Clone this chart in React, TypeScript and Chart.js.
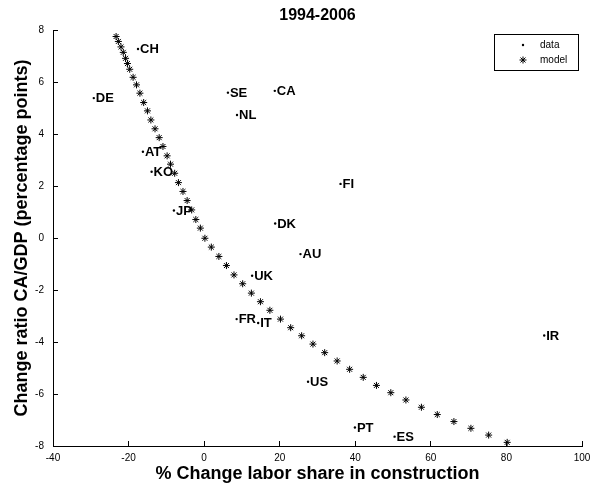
import React, { useEffect, useRef } from 'react';
import { Chart, registerables } from 'chart.js';

Chart.register(...registerables);

const FONT = '"Liberation Sans", Arial, Helvetica, sans-serif';

const TITLE = '1994-2006';
const X_TITLE = '% Change labor share in construction';
const Y_TITLE = 'Change ratio CA/GDP (percentage points)';
const DATA_LABEL = 'data';
const MODEL_LABEL = 'model';

const X_MIN = -40;
const X_MAX = 100;
const X_STEP = 20;
const Y_MIN = -8;
const Y_MAX = 8;
const Y_STEP = 2;

const COUNTRIES = ['CH', 'DE', 'SE', 'CA', 'NL', 'AT', 'KO', 'JP', 'DK', 'FI', 'AU', 'UK', 'FR', 'IT', 'IR', 'US', 'PT', 'ES'];
const DATA_X = [-17.5, -29.2, 6.3, 18.7, 8.7, -16.2, -13.9, -8.0, 18.8, 36.1, 25.5, 12.7, 8.6, 14.3, 90.0, 27.5, 39.9, 50.4];
const DATA_Y = [7.27, 5.38, 5.59, 5.66, 4.73, 3.32, 2.55, 1.06, 0.56, 2.08, -0.62, -1.45, -3.12, -3.27, -3.75, -5.53, -7.29, -7.64];

const MODEL_X = [
  -23.3, -22.7, -22.0, -21.4, -20.8, -20.3, -19.7, -18.8, -17.9, -17.0,
  -16.0, -15.0, -14.1, -13.0, -11.9, -10.9, -9.8, -8.9, -7.8, -6.8,
  -5.6, -4.5, -3.3, -2.2, -1.0, 0.2, 1.9, 3.9, 5.9, 7.9,
  10.2, 12.5, 14.9, 17.4, 20.2, 22.9, 25.8, 28.8, 31.9, 35.2,
  38.5, 42.1, 45.6, 49.4, 53.4, 57.5, 61.7, 66.1, 70.6, 75.3,
  80.2,
];
const MODEL_Y = [
  7.75, 7.56, 7.35, 7.14, 6.91, 6.71, 6.49, 6.18, 5.89, 5.57,
  5.21, 4.89, 4.54, 4.20, 3.86, 3.52, 3.16, 2.84, 2.49, 2.13,
  1.79, 1.44, 1.08, 0.71, 0.38, -0.01, -0.35, -0.71, -1.06, -1.42,
  -1.76, -2.12, -2.45, -2.78, -3.12, -3.45, -3.76, -4.08, -4.41, -4.73,
  -5.05, -5.36, -5.67, -5.95, -6.23, -6.51, -6.79, -7.06, -7.32, -7.58,
  -7.86,
];

const pointLabelPlugin = {
  id: 'pointLabels',
  afterDatasetsDraw(chart: any) {
    const meta = chart.getDatasetMeta(0);
    const ctx = chart.ctx;
    ctx.save();
    ctx.font = `bold 13px ${FONT}`;
    ctx.fillStyle = '#000';
    ctx.textAlign = 'left';
    ctx.textBaseline = 'middle';
    meta.data.forEach((el: any, i: number) => {
      ctx.fillText(COUNTRIES[i], el.x + 2, el.y + 0.5);
    });
    ctx.restore();
  },
};

const boxedLegendPlugin = {
  id: 'boxedLegend',
  afterDraw(chart: any) {
    const { ctx, chartArea } = chart;
    const right = chartArea.right - 4;
    const left = right - 84;
    const top = chartArea.top + 4;
    const bottom = top + 36;
    ctx.save();
    ctx.fillStyle = '#fff';
    ctx.fillRect(left, top, right - left, bottom - top);
    ctx.strokeStyle = '#000';
    ctx.lineWidth = 1;
    ctx.strokeRect(Math.round(left) + 0.5, Math.round(top) + 0.5, Math.round(right - left), Math.round(bottom - top));
    const rows = [top + 11, top + 26];
    chart.data.datasets.forEach((ds: any, i: number) => {
      const y = rows[i];
      const sx = left + 29;
      ctx.strokeStyle = '#000';
      ctx.fillStyle = '#000';
      ctx.lineWidth = ds.borderWidth || 1;
      if (ds.pointStyle === 'star') {
        const r = ds.pointRadius;
        ctx.beginPath();
        ctx.moveTo(sx - r, y); ctx.lineTo(sx + r, y);
        ctx.moveTo(sx, y - r); ctx.lineTo(sx, y + r);
        const d = r * Math.SQRT1_2;
        ctx.moveTo(sx - d, y - d); ctx.lineTo(sx + d, y + d);
        ctx.moveTo(sx - d, y + d); ctx.lineTo(sx + d, y - d);
        ctx.stroke();
      } else {
        ctx.beginPath();
        ctx.arc(sx, y, ds.pointRadius, 0, Math.PI * 2);
        ctx.fill();
      }
      ctx.font = `10px ${FONT}`;
      ctx.textAlign = 'left';
      ctx.textBaseline = 'middle';
      ctx.fillText(ds.label, left + 46, y);
    });
    ctx.restore();
  },
};

export default function App() {
  const canvasRef = useRef<HTMLCanvasElement | null>(null);

  useEffect(() => {
    const canvas = canvasRef.current;
    if (!canvas) return;
    const tickFont = { family: FONT, size: 10 };
    const chart = new Chart(canvas, {
      type: 'scatter',
      data: {
        datasets: [
          {
            label: DATA_LABEL,
            data: DATA_X.map((x, i) => ({ x, y: DATA_Y[i] })),
            pointRadius: 1.2,
            pointStyle: 'circle',
            backgroundColor: '#000',
            borderColor: '#000',
            borderWidth: 0,
            showLine: false,
          },
          {
            label: MODEL_LABEL,
            data: MODEL_X.map((x, i) => ({ x, y: MODEL_Y[i] })),
            pointRadius: 3.5,
            pointStyle: 'star',
            backgroundColor: '#000',
            borderColor: '#000',
            borderWidth: 1,
            showLine: false,
          },
        ],
      },
      options: {
        responsive: false,
        animation: false,
        devicePixelRatio: 1,
        layout: { padding: { left: 0, right: 10, top: 0, bottom: 0 } },
        plugins: {
          legend: { display: false },
          tooltip: { enabled: false },
          title: {
            display: true,
            text: TITLE,
            fullSize: false,
            color: '#000',
            font: { family: FONT, size: 16, weight: 'bold' },
            padding: { top: 5.5, bottom: 5.3 },
          },
        },
        scales: {
          x: {
            type: 'linear',
            min: X_MIN,
            max: X_MAX,
            afterFit: (s: any) => { s.height = 44; s.paddingRight = 0; s.paddingLeft = 0; },
            ticks: { stepSize: X_STEP, color: '#000', font: tickFont, padding: 11, maxRotation: 0 },
            grid: { drawOnChartArea: false, drawTicks: true, tickLength: -5, color: '#000', lineWidth: 1 },
            border: { display: true, color: '#000', width: 1 },
            title: {
              display: true,
              text: X_TITLE,
              color: '#000',
              font: { family: FONT, size: 18, weight: 'bold' },
              padding: { top: 0, bottom: 5 },
            },
          },
          y: {
            type: 'linear',
            min: Y_MIN,
            max: Y_MAX,
            afterFit: (s: any) => { s.width = 53; },
            ticks: { stepSize: Y_STEP, color: '#000', font: tickFont, padding: 14 },
            grid: { drawOnChartArea: false, drawTicks: true, tickLength: -5, color: '#000', lineWidth: 1 },
            border: { display: true, color: '#000', width: 1 },
            title: {
              display: true,
              text: Y_TITLE,
              color: '#000',
              font: { family: FONT, size: 18, weight: 'bold' },
              padding: { top: 11, bottom: 0 },
            },
          },
        },
      },
      plugins: [pointLabelPlugin, boxedLegendPlugin],
    } as any);
    return () => chart.destroy();
  }, []);

  return (
    <div style={{ position: 'fixed', left: 0, top: 0, width: 592, height: 490, background: '#fff' }}>
      <canvas ref={canvasRef} width={592} height={490} style={{ display: 'block' }} />
    </div>
  );
}
